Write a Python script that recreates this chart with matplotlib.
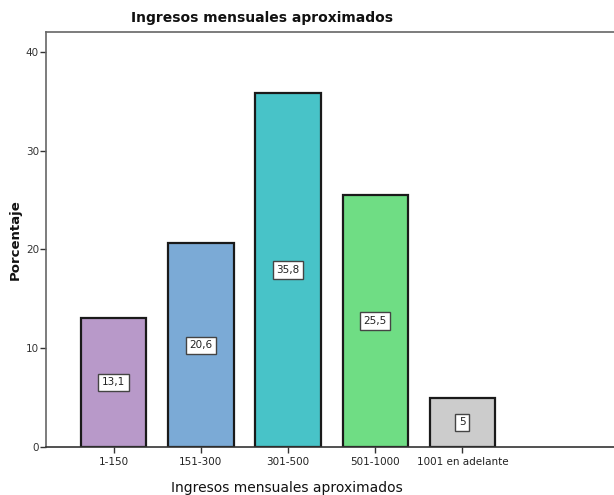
import matplotlib
matplotlib.use("Agg")
import matplotlib.pyplot as plt
import numpy as np

categories = ["1-150", "151-300", "301-500", "501-1000", "1001 en adelante"]
percentages = [13.1, 20.6, 35.8, 25.5, 5.0]
value_labels = ["13,1", "20,6", "35,8", "25,5", "5"]
bar_colors = ["#B899C9", "#7BAAD6", "#48C3C8", "#6FDD84", "#CCCCCC"]
y_ticks = [0, 10, 20, 30, 40]

fig = plt.figure(figsize=(6.14, 4.95), dpi=100)
ax = fig.add_axes([46 / 614, 1 - 447 / 495, 1 - 46 / 614 + 0.002, (447 - 32) / 495])

x = np.arange(len(categories))
ax.bar(x, percentages, width=0.75, color=bar_colors, edgecolor="#1a1a1a",
       linewidth=1.6, zorder=2)

# value boxes sit halfway up each bar
for xi, val, lab in zip(x, percentages, value_labels):
    ax.text(xi, val / 2, lab, ha="center", va="center", fontsize=7.5,
            color="#222222", zorder=3,
            bbox=dict(boxstyle="square,pad=0.35", facecolor="white",
                      edgecolor="#444444", linewidth=1.0))

ax.set_xlim(-0.776, 5.753)
ax.set_ylim(0, 42)
ax.set_xticks(x)
ax.set_xticklabels(categories, fontsize=7.5, color="#222222")
ax.set_yticks(y_ticks)
ax.set_yticklabels([str(t) for t in y_ticks], fontsize=7.5, color="#333333")
ax.tick_params(axis="both", direction="out", length=4, width=1.0, color="#333333")
ax.tick_params(axis="x", pad=3)
ax.tick_params(axis="y", pad=1)

ax.spines["right"].set_visible(False)
for side in ["left", "top"]:
    ax.spines[side].set_color("#666666")
    ax.spines[side].set_linewidth(1.2)
ax.spines["bottom"].set_color("#333333")
ax.spines["bottom"].set_linewidth(1.2)

fig.text(262 / 614, 1 - 18 / 495, "Ingresos mensuales aproximados",
         ha="center", va="center", fontsize=10, fontweight="bold", color="#111111")
fig.text(287 / 614, 1 - 488 / 495, "Ingresos mensuales aproximados",
         ha="center", va="center", fontsize=10, fontweight="medium", color="#111111")
fig.text(15 / 614, 1 - 240 / 495, "Porcentaje", rotation=90,
         ha="center", va="center", fontsize=9.5, fontweight="bold", color="#111111")

fig.savefig("out.png", dpi=100)
